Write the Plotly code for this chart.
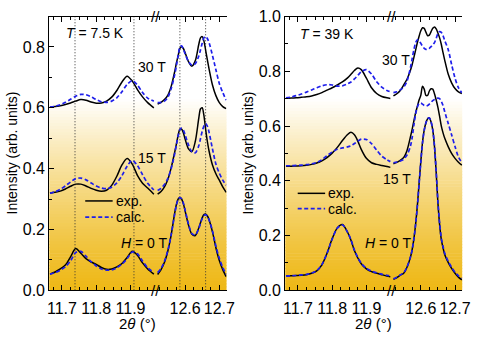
import plotly.graph_objects as go

# ---------------------------------------------------------------------------
# Diffraction profiles, intensity in arb. units, 2theta in degrees.
# Panel A: T = 7.5 K, panel B: T = 39 K.  Each panel has a low-angle and a
# high-angle window of 2theta (the axis is broken in between).
# ---------------------------------------------------------------------------
FIELD_LABELS = ["30 T", "15 T", "0 T"]

A_LOW_X = [11.665, 11.68, 11.695, 11.71, 11.725, 11.74, 11.755, 11.77, 11.785,
           11.80, 11.815, 11.83, 11.845, 11.86, 11.875, 11.89, 11.905, 11.92,
           11.935, 11.95, 11.968]
A_LOW_EXP_30 = [0.602, 0.604, 0.607, 0.611, 0.616, 0.622, 0.627, 0.625, 0.619, 0.615, 0.616,
                0.622, 0.635, 0.657, 0.685, 0.704, 0.688, 0.660, 0.636, 0.617, 0.600]
A_LOW_CALC_30 = [0.602, 0.605, 0.610, 0.618, 0.628, 0.638, 0.644, 0.643, 0.636, 0.627, 0.620,
                 0.618, 0.622, 0.633, 0.653, 0.677, 0.689, 0.675, 0.650, 0.632, 0.622]
A_LOW_EXP_15 = [0.319, 0.322, 0.326, 0.333, 0.342, 0.349, 0.349, 0.343, 0.335, 0.329, 0.326,
                0.329, 0.345, 0.375, 0.412, 0.433, 0.415, 0.378, 0.352, 0.336, 0.316]
A_LOW_CALC_15 = [0.319, 0.324, 0.332, 0.343, 0.356, 0.367, 0.369, 0.363, 0.353, 0.343, 0.336,
                 0.334, 0.339, 0.353, 0.377, 0.408, 0.427, 0.410, 0.380, 0.352, 0.330]
A_LOW_EXP_0 = [0.053, 0.060, 0.070, 0.083, 0.110, 0.137, 0.122, 0.104, 0.093, 0.085, 0.075,
               0.069, 0.070, 0.077, 0.088, 0.108, 0.128, 0.115, 0.090, 0.070, 0.053]
A_LOW_CALC_0 = [0.053, 0.058, 0.066, 0.077, 0.097, 0.124, 0.128, 0.112, 0.094, 0.080, 0.070,
                0.066, 0.067, 0.074, 0.086, 0.104, 0.126, 0.120, 0.096, 0.074, 0.058]

A_HIGH_X = [12.52, 12.53, 12.54, 12.55, 12.56, 12.57, 12.575, 12.58, 12.585, 12.59, 12.595,
            12.60, 12.61, 12.62, 12.63, 12.64, 12.645, 12.65, 12.655, 12.66, 12.665, 12.67,
            12.68, 12.69, 12.70, 12.71, 12.72]
A_HIGH_EXP_30 = [0.612, 0.618, 0.627, 0.642, 0.672, 0.720, 0.748, 0.772, 0.795, 0.801, 0.795,
                 0.782, 0.752, 0.737, 0.755, 0.808, 0.830, 0.834, 0.820, 0.790, 0.758, 0.728,
                 0.675, 0.640, 0.617, 0.604, 0.597]
A_HIGH_CALC_30 = [0.617, 0.618, 0.622, 0.635, 0.665, 0.710, 0.740, 0.772, 0.800, 0.804, 0.793,
                  0.778, 0.752, 0.740, 0.745, 0.770, 0.790, 0.812, 0.830, 0.835, 0.828, 0.815,
                  0.772, 0.725, 0.680, 0.650, 0.625]
A_HIGH_EXP_15 = [0.316, 0.325, 0.340, 0.365, 0.405, 0.455, 0.482, 0.510, 0.530, 0.530, 0.518,
                 0.498, 0.465, 0.456, 0.490, 0.565, 0.596, 0.600, 0.575, 0.530, 0.490, 0.458,
                 0.412, 0.383, 0.362, 0.340, 0.322]
A_HIGH_CALC_15 = [0.328, 0.335, 0.348, 0.368, 0.402, 0.450, 0.480, 0.508, 0.528, 0.533, 0.527,
                  0.512, 0.478, 0.455, 0.452, 0.475, 0.498, 0.522, 0.540, 0.548, 0.540, 0.520,
                  0.465, 0.415, 0.385, 0.362, 0.345]
A_HIGH_EXP_0 = [0.052, 0.068, 0.092, 0.130, 0.185, 0.255, 0.283, 0.300, 0.305, 0.300, 0.285,
                0.262, 0.215, 0.184, 0.180, 0.205, 0.222, 0.238, 0.249, 0.251, 0.245, 0.232,
                0.192, 0.140, 0.098, 0.068, 0.045]
A_HIGH_CALC_0 = [0.058, 0.072, 0.095, 0.132, 0.185, 0.252, 0.281, 0.299, 0.305, 0.301, 0.287,
                 0.265, 0.218, 0.186, 0.182, 0.203, 0.220, 0.236, 0.246, 0.248, 0.244, 0.232,
                 0.195, 0.145, 0.105, 0.075, 0.052]

# Zero-field peak positions marked by dotted guide lines in panel A
A_GUIDES_LOW = [11.738, 11.91]
A_GUIDES_HIGH = [12.585, 12.66]

B_LOW_X = [11.665, 11.68, 11.695, 11.71, 11.725, 11.74, 11.755, 11.77, 11.785, 11.80,
           11.815, 11.83, 11.845, 11.855, 11.865, 11.875, 11.885, 11.90, 11.915, 11.93,
           11.945, 11.96, 11.97]
B_LOW_EXP_30 = [0.702, 0.702, 0.703, 0.705, 0.707, 0.710, 0.715, 0.722, 0.731, 0.740, 0.750,
                0.761, 0.776, 0.789, 0.803, 0.812, 0.806, 0.775, 0.740, 0.719, 0.708, 0.703, 0.701]
B_LOW_CALC_30 = [0.703, 0.706, 0.711, 0.717, 0.724, 0.732, 0.740, 0.747, 0.751, 0.750, 0.746,
                 0.747, 0.754, 0.761, 0.772, 0.785, 0.798, 0.806, 0.790, 0.762, 0.742, 0.730, 0.725]
B_LOW_EXP_15 = [0.453, 0.453, 0.454, 0.455, 0.457, 0.460, 0.465, 0.473, 0.485, 0.501, 0.522,
                0.547, 0.569, 0.577, 0.568, 0.545, 0.515, 0.482, 0.466, 0.460, 0.456, 0.452, 0.449]
B_LOW_CALC_15 = [0.455, 0.455, 0.456, 0.457, 0.459, 0.462, 0.467, 0.477, 0.492, 0.505, 0.515,
                 0.520, 0.524, 0.528, 0.536, 0.545, 0.552, 0.551, 0.536, 0.512, 0.490, 0.477, 0.470]
B_LOW_EXP_0 = [0.052, 0.053, 0.054, 0.055, 0.057, 0.062, 0.071, 0.093, 0.135, 0.188, 0.228,
               0.240, 0.212, 0.183, 0.145, 0.118, 0.097, 0.078, 0.068, 0.062, 0.057, 0.052, 0.049]
B_LOW_CALC_0 = [0.052, 0.053, 0.054, 0.056, 0.058, 0.063, 0.072, 0.094, 0.135, 0.187, 0.227,
                0.239, 0.212, 0.184, 0.147, 0.120, 0.099, 0.080, 0.070, 0.064, 0.059, 0.055, 0.053]

B_HIGH_X = [12.52, 12.53, 12.54, 12.55, 12.56, 12.57, 12.575, 12.58, 12.585, 12.59, 12.595,
            12.60, 12.605, 12.61, 12.615, 12.62, 12.625, 12.63, 12.635, 12.64, 12.645, 12.65,
            12.655, 12.66, 12.665, 12.67, 12.68, 12.69, 12.70, 12.71, 12.72]
B_HIGH_EXP_30 = [0.710, 0.718, 0.730, 0.750, 0.772, 0.805, 0.826, 0.852, 0.878, 0.905, 0.928,
                 0.948, 0.959, 0.957, 0.943, 0.930, 0.932, 0.945, 0.957, 0.962, 0.955, 0.940,
                 0.922, 0.898, 0.868, 0.840, 0.790, 0.758, 0.737, 0.725, 0.719]
B_HIGH_CALC_30 = [0.722, 0.725, 0.732, 0.742, 0.765, 0.815, 0.848, 0.880, 0.905, 0.915, 0.912,
                  0.902, 0.892, 0.884, 0.880, 0.880, 0.884, 0.890, 0.897, 0.905, 0.920, 0.938,
                  0.945, 0.942, 0.930, 0.912, 0.880, 0.825, 0.775, 0.740, 0.722]
B_HIGH_EXP_15 = [0.462, 0.467, 0.475, 0.485, 0.512, 0.562, 0.590, 0.620, 0.649, 0.672, 0.695,
                 0.712, 0.745, 0.735, 0.712, 0.712, 0.728, 0.736, 0.735, 0.718, 0.695, 0.668,
                 0.635, 0.600, 0.575, 0.555, 0.525, 0.500, 0.482, 0.468, 0.457]
B_HIGH_CALC_15 = [0.466, 0.468, 0.472, 0.479, 0.495, 0.528, 0.560, 0.605, 0.645, 0.670, 0.682,
                  0.684, 0.680, 0.675, 0.673, 0.675, 0.680, 0.687, 0.693, 0.697, 0.700, 0.702,
                  0.700, 0.690, 0.675, 0.652, 0.610, 0.568, 0.525, 0.487, 0.466]
B_HIGH_EXP_0 = [0.040, 0.046, 0.055, 0.062, 0.085, 0.122, 0.150, 0.190, 0.243, 0.310, 0.390,
                0.470, 0.540, 0.585, 0.612, 0.627, 0.630, 0.615, 0.585, 0.525, 0.430, 0.320,
                0.240, 0.185, 0.155, 0.130, 0.102, 0.080, 0.062, 0.048, 0.038]
B_HIGH_CALC_0 = [0.042, 0.048, 0.056, 0.064, 0.086, 0.122, 0.150, 0.190, 0.242, 0.308, 0.388,
                 0.468, 0.538, 0.584, 0.612, 0.627, 0.630, 0.616, 0.586, 0.527, 0.434, 0.325,
                 0.245, 0.190, 0.160, 0.135, 0.106, 0.084, 0.066, 0.053, 0.044]

LOW_RANGE = [11.663, 11.973]
HIGH_RANGE = [12.514, 12.721]
Y_RANGES = [[0, 0.9], [0, 1.0]]

# ---------------------------------------------------------------------------
# Layout helpers (pixel -> paper fractions)
# ---------------------------------------------------------------------------
W, H = 480, 343
FONT = "Liberation Sans, Arial, sans-serif"
EXP_COLOR = "black"
CALC_COLOR = "rgb(30,30,235)"


def fx(p):
    return p / W


def fy(p):
    return 1 - p / H


PLOT_TOP, PLOT_BOTTOM = 9, 297
PANELS = [(48.3, 229.3), (289.3, 470.0)]
low_span = LOW_RANGE[1] - LOW_RANGE[0]
high_span = HIGH_RANGE[1] - HIGH_RANGE[0]
split = low_span / (low_span + high_span)

fig = go.Figure()

panel_data = [
    dict(low_x=A_LOW_X, high_x=A_HIGH_X,
         low=[(A_LOW_EXP_30, A_LOW_CALC_30), (A_LOW_EXP_15, A_LOW_CALC_15), (A_LOW_EXP_0, A_LOW_CALC_0)],
         high=[(A_HIGH_EXP_30, A_HIGH_CALC_30), (A_HIGH_EXP_15, A_HIGH_CALC_15), (A_HIGH_EXP_0, A_HIGH_CALC_0)],
         xa=("x", "x2"), ya="y", ymirror="y3"),
    dict(low_x=B_LOW_X, high_x=B_HIGH_X,
         low=[(B_LOW_EXP_30, B_LOW_CALC_30), (B_LOW_EXP_15, B_LOW_CALC_15), (B_LOW_EXP_0, B_LOW_CALC_0)],
         high=[(B_HIGH_EXP_30, B_HIGH_CALC_30), (B_HIGH_EXP_15, B_HIGH_CALC_15), (B_HIGH_EXP_0, B_HIGH_CALC_0)],
         xa=("x3", "x4"), ya="y2", ymirror="y4"),
]

for pdat in panel_data:
    for seg_x, seg, xa in ((pdat["low_x"], pdat["low"], pdat["xa"][0]),
                           (pdat["high_x"], pdat["high"], pdat["xa"][1])):
        for label_txt, (exp_vals, calc_vals) in zip(FIELD_LABELS, seg):
            fig.add_trace(go.Scatter(
                x=seg_x, y=exp_vals, xaxis=xa, yaxis=pdat["ya"], mode="lines",
                name="exp. " + label_txt,
                line=dict(color=EXP_COLOR, width=1.5, shape="spline", smoothing=0.8),
                showlegend=False, hoverinfo="skip"))
            fig.add_trace(go.Scatter(
                x=seg_x, y=calc_vals, xaxis=xa, yaxis=pdat["ya"], mode="lines",
                name="calc. " + label_txt,
                line=dict(color=CALC_COLOR, width=1.7, dash="4px,2.5px", shape="spline", smoothing=0.8),
                showlegend=False, hoverinfo="skip"))

# ---------------------------------------------------------------------------
# Axes
# ---------------------------------------------------------------------------
tick_font = dict(family=FONT, size=16, color="black")
x_common = dict(showline=True, linecolor="black", linewidth=1.2, mirror="ticks",
                ticks="inside", ticklen=5, tickwidth=1.1, tickcolor="black",
                dtick=0.1, tick0=0, tickformat=".1f", ticklabelstandoff=3, tickangle=0,
                minor=dict(ticks="inside", ticklen=3, tickwidth=1.1, tickcolor="black",
                           dtick=0.025, tick0=0, showgrid=False),
                showgrid=False, zeroline=False, tickfont=tick_font, fixedrange=True)
y_common = dict(showline=True, linecolor="black", linewidth=1.2,
                ticks="inside", ticklen=5, tickwidth=1.1, tickcolor="black",
                dtick=0.2, tick0=0, tickformat=".1f",
                minor=dict(ticks="inside", ticklen=3, tickwidth=1.1, tickcolor="black",
                           dtick=0.1, tick0=0, showgrid=False),
                showgrid=False, zeroline=False, tickfont=tick_font, fixedrange=True)

y_dom = [fy(PLOT_BOTTOM), fy(PLOT_TOP)]
layout_axes = {}
for i, (pdat, (left_px, right_px)) in enumerate(zip(panel_data, PANELS)):
    x0, x1 = fx(left_px), fx(right_px)
    xb = x0 + (x1 - x0) * split
    lo_name = "xaxis" if pdat["xa"][0] == "x" else "xaxis" + pdat["xa"][0][1:]
    hi_name = "xaxis" + pdat["xa"][1][1:]
    y_name = "yaxis" if pdat["ya"] == "y" else "yaxis" + pdat["ya"][1:]
    ym_name = "yaxis" + pdat["ymirror"][1:]
    layout_axes[lo_name] = dict(x_common, domain=[x0, xb], range=LOW_RANGE, anchor=pdat["ya"])
    layout_axes[hi_name] = dict(x_common, domain=[xb, x1], range=HIGH_RANGE, anchor=pdat["ya"])
    layout_axes[y_name] = dict(y_common, domain=y_dom, range=Y_RANGES[i], anchor=pdat["xa"][0], side="left")
    layout_axes[ym_name] = dict(y_common, range=Y_RANGES[i], anchor=pdat["xa"][1], side="right",
                                overlaying=pdat["ya"], showticklabels=False)

# ---------------------------------------------------------------------------
# Background gradient, guide lines, legend keys and labels
# ---------------------------------------------------------------------------
shapes = []
GOLD = (238, 184, 22)
WHITE_FROM = 0.70  # fraction of plot height above which the background is white
RAMP_POWER = 1.2
N_BANDS = 90
for left_px, right_px in PANELS:
    for k in range(N_BANDS):
        f0, f1 = k / N_BANDS, (k + 1) / N_BANDS
        t = min(1.0, (f0 + f1) / 2 / WHITE_FROM) ** RAMP_POWER
        col = tuple(round(g + (255 - g) * t) for g in GOLD)
        shapes.append(dict(type="rect", xref="paper", yref="paper", layer="below",
                           x0=fx(left_px), x1=fx(right_px),
                           y0=y_dom[0] + (y_dom[1] - y_dom[0]) * f0,
                           y1=y_dom[0] + (y_dom[1] - y_dom[0]) * f1 + 0.002,
                           line=dict(width=0), fillcolor="rgb(%d,%d,%d)" % col))

for gx in A_GUIDES_LOW:
    shapes.append(dict(type="line", xref="x", yref="y domain", x0=gx, x1=gx, y0=0, y1=1,
                       layer="below", line=dict(color="#333333", width=1, dash="1px,2px")))
for gx in A_GUIDES_HIGH:
    shapes.append(dict(type="line", xref="x2", yref="y domain", x0=gx, x1=gx, y0=0, y1=1,
                       layer="below", line=dict(color="#333333", width=1, dash="1px,2px")))

annotations = []


def label(text, xp, yp, size=14, xanchor="left", **kw):
    annotations.append(dict(text=text, x=fx(xp), y=fy(yp), xref="paper", yref="paper",
                            xanchor=xanchor, yanchor="middle", showarrow=False,
                            font=dict(family=FONT, size=size, color="black"), **kw))


# legend keys
LEGEND_KEYS = [
    # (line x0, line x1, row y exp, row y calc)
    (85, 113, 203, 220),
    (302, 330, 195, 211),
]
for lx0, lx1, ye, yc in LEGEND_KEYS:
    shapes.append(dict(type="line", xref="paper", yref="paper", x0=fx(lx0), x1=fx(lx1),
                       y0=fy(ye), y1=fy(ye), line=dict(color=EXP_COLOR, width=1.5)))
    shapes.append(dict(type="line", xref="paper", yref="paper", x0=fx(lx0), x1=fx(lx1),
                       y0=fy(yc), y1=fy(yc), line=dict(color=CALC_COLOR, width=1.7, dash="4px,2.5px")))
    label("exp.", lx1 + 1, ye)
    label("calc.", lx1 + 1, yc)

label("<i>T</i> = 7.5 K", 63, 26)
label("30 T", 137, 62)
label("15 T", 137, 158)
label("<i>H</i> = 0 T", 119, 247)
label("<i>T</i> = 39 K", 302, 27)
label("30 T", 386, 55)
label("15 T", 387, 180)
label("<i>H</i> = 0 T", 369, 247)

for left_px, right_px in PANELS:
    xb_px = left_px + (right_px - left_px) * split
    label("//", xb_px, PLOT_BOTTOM, size=15, xanchor="center")
    label("//", xb_px, PLOT_TOP, size=15, xanchor="center")
    label("2<i>θ</i> (°)", (left_px + right_px) / 2, 332, size=15, xanchor="center")
    label("Intensity (arb. units)", left_px - 38, (PLOT_TOP + PLOT_BOTTOM) / 2, size=14,
          xanchor="center", textangle=-90)

fig.update_layout(
    width=W, height=H, margin=dict(l=0, r=0, t=0, b=0),
    paper_bgcolor="white", plot_bgcolor="rgba(0,0,0,0)",
    showlegend=False, shapes=shapes, annotations=annotations,
    font=dict(family=FONT, color="black"),
    **layout_axes,
)

fig.write_html("out.html")
